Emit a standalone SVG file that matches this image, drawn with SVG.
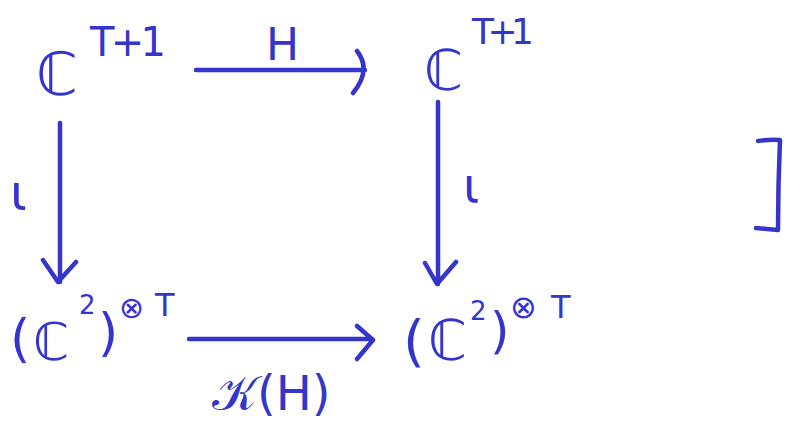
<svg xmlns="http://www.w3.org/2000/svg" width="785" height="423" viewBox="0 0 785 423">
<style>
.t{fill:#3535CC;font-family:"DejaVu Sans","Noto Sans",sans-serif}
.ln{fill:none;stroke:#3535CC;stroke-width:4.5;stroke-linecap:round;stroke-linejoin:round}
</style>
<rect width="785" height="423" fill="#fff"/>
<g id="node-tl">
<text class="t" x="36" y="95" font-size="60">ℂ</text>
<text class="t" x="90" y="56" font-size="40" textLength="76" lengthAdjust="spacing">T + 1</text>
</g>
<g id="node-tr">
<text class="t" x="424" y="90" font-size="56">ℂ</text>
<text class="t" x="472" y="44" font-size="36" textLength="62" lengthAdjust="spacing">T+1</text>
</g>
<g id="node-bl">
<text class="t" font-size="52"><tspan x="10" y="356">(</tspan><tspan x="33" y="360">ℂ</tspan><tspan x="79" y="314" font-size="26">2</tspan><tspan x="98" y="350">)</tspan><tspan x="119" y="318" font-size="30">⊗</tspan><tspan x="155" y="316" font-size="32">T</tspan></text>
</g>
<g id="node-br">
<text class="t" font-size="56"><tspan x="403" y="360">(</tspan><tspan x="428" y="360">ℂ</tspan><tspan x="470" y="320" font-size="26">2</tspan><tspan x="490" y="348" font-size="50">)</tspan><tspan x="510" y="318" font-size="32">⊗</tspan><tspan x="551" y="318" font-size="32">T</tspan></text>
</g>
<g id="bracket">
<path class="ln" d="M758 141 Q770 139 780 140 Q778 185 778 230 L756 228"/>
</g>
<g id="connectors">
<path class="ln" d="M196 70 H365 M357 51 Q372 70 353 93"/>
<text class="t" x="266" y="60" font-size="44">H</text>
<path class="ln" d="M60 123 V282 M43 260 L58 282 L76 262"/>
<text class="t" x="10" y="210" font-size="50">ι</text>
<path class="ln" d="M438 102 V284 M425 263 L437 284 L456 262"/>
<text class="t" x="463" y="202" font-size="48">ι</text>
<path class="ln" d="M189 339 H372 M357 326 L373 340 L357 359"/>
<text class="t" x="212" y="410" font-size="48">𝒦(H)</text>
</g>
</svg>
